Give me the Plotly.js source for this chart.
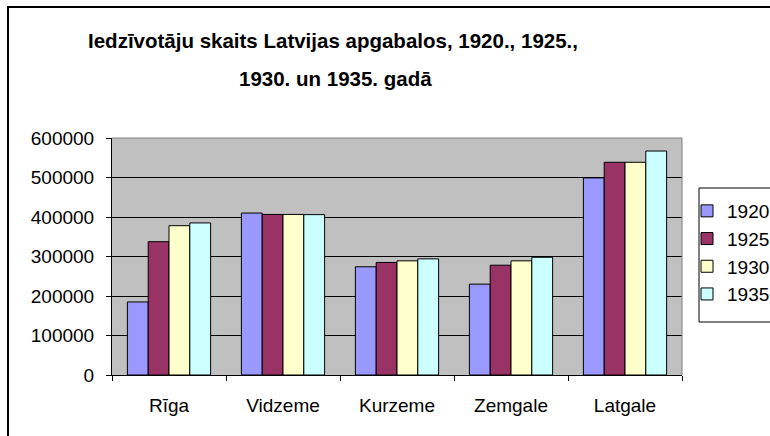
<!DOCTYPE html>
<html>
<head>
<meta charset="utf-8">
<script src="https://cdn.plot.ly/plotly-3.0.1.min.js"></script>
<style>body{margin:0;padding:0;background:#fff}#chart{width:770px;height:436px}</style>
</head>
<body>
<div id="chart"></div>
<script>
const categories = ["Rīga", "Vidzeme", "Kurzeme", "Zemgale", "Latgale"];
const years = ["1920", "1925", "1930", "1935"];
const v1920 = [185000, 410000, 274000, 230000, 499000];
const v1925 = [337500, 406500, 285000, 278000, 538500];
const v1930 = [378000, 406500, 289000, 289000, 538500];
const v1935 = [385000, 406000, 294000, 298000, 567000];
const seriesValues = [v1920, v1925, v1930, v1935];
const colors = ["#9999ff", "#993366", "#ffffcc", "#ccffff"];
const yTicks = [0, 100000, 200000, 300000, 400000, 500000, 600000];
const titleLines = ["Iedzīvotāju skaits Latvijas apgabalos, 1920., 1925.,", "1930. un 1935. gadā"];

const font = "Liberation Sans, Arial, sans-serif";
const L = 112, R = 88, T = 138, B = 61, W = 770, H = 436;
const pw = W - L - R, ph = H - T - B;
const px = x => (x - L) / pw;
const py = y => (H - B - y) / ph;

const traces = seriesValues.map((vals, i) => ({
  type: "bar",
  name: years[i],
  x: categories,
  y: vals,
  marker: {color: colors[i], line: {color: "#000", width: 1}},
  hoverinfo: "x+y+name"
}));

const layout = {
  width: W, height: H,
  margin: {l: L, r: R, t: T, b: B, pad: 0, autoexpand: false},
  paper_bgcolor: "#fff",
  plot_bgcolor: "#c0c0c0",
  barmode: "group",
  bargap: 0.27,
  bargroupgap: 0,
  font: {family: font, color: "#000", size: 19},
  title: {
    text: "<b>" + titleLines[0] + "</b>",
    font: {family: font, size: 20.5, color: "#000"},
    xref: "paper", x: px(333), xanchor: "center",
    yref: "container", y: 1 - 41 / H, yanchor: "middle"
  },
  annotations: [{
    text: "<b>" + titleLines[1] + "</b>",
    xref: "paper", yref: "paper",
    x: px(335), y: py(78), xanchor: "center", yanchor: "middle",
    showarrow: false,
    font: {family: font, size: 20.5, color: "#000"}
  }],
  xaxis: {
    type: "category",
    showgrid: false,
    showline: true, linecolor: "#000", linewidth: 1,
    ticks: "outside", tickson: "boundaries", ticklen: 5, tickcolor: "#000",
    ticklabelstandoff: 13,
    tickfont: {family: font, size: 19},
    fixedrange: true
  },
  yaxis: {
    range: [0, 600000],
    tickvals: yTicks,
    ticktext: yTicks.map(String),
    showgrid: true, gridcolor: "#000", gridwidth: 1,
    showline: true, linecolor: "#000", linewidth: 1,
    ticks: "outside", ticklen: 5, tickcolor: "#000",
    ticklabelstandoff: 8,
    zeroline: false,
    tickfont: {family: font, size: 19},
    fixedrange: true
  },
  legend: {
    x: px(687), xanchor: "left",
    y: py(192), yanchor: "top",
    bgcolor: "rgba(0,0,0,0)", borderwidth: 0,
    font: {family: font, size: 19},
    tracegroupgap: 0,
    itemwidth: 30
  },
  shapes: [
    {type: "line", xref: "paper", yref: "paper", x0: 0, x1: 1, y0: 1, y1: 1, line: {color: "#808080", width: 1}},
    {type: "line", xref: "paper", yref: "paper", x0: 1, x1: 1, y0: 0, y1: 1, line: {color: "#808080", width: 1}},
    {type: "rect", xref: "paper", yref: "paper", x0: px(699), x1: px(800), y0: py(188), y1: py(322), line: {color: "#000", width: 1}, fillcolor: "#fff", layer: "below"},
    {type: "rect", xref: "paper", yref: "paper", x0: px(8), x1: px(800), y0: py(7), y1: py(460), line: {color: "#000", width: 2}, layer: "below"}
  ],
  showlegend: true
};

Plotly.newPlot("chart", traces, layout, {displayModeBar: false, staticPlot: true});
</script>
</body>
</html>
